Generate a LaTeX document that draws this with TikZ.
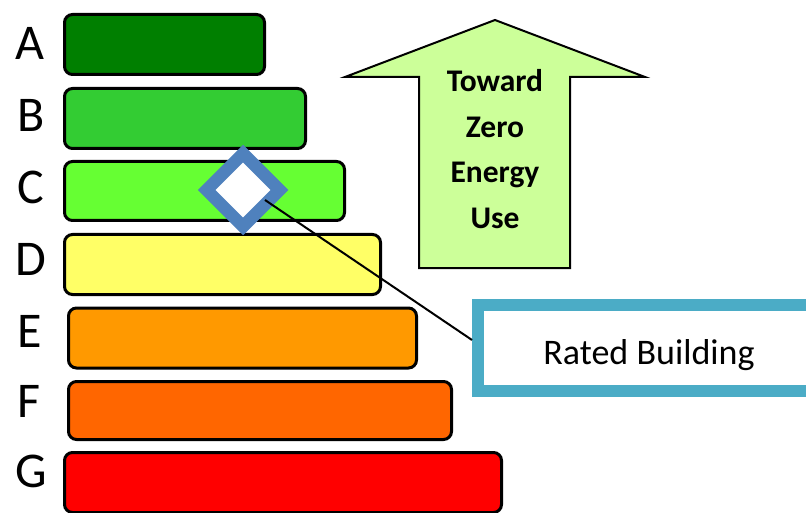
\documentclass[tikz,border=0pt]{standalone}
\usepackage{fontspec}
\setmainfont{Carlito}
\usetikzlibrary{shapes.geometric}
\definecolor{cA}{HTML}{007F00}
\definecolor{cB}{HTML}{33CC33}
\definecolor{cC}{HTML}{66FF33}
\definecolor{cD}{HTML}{FFFF66}
\definecolor{cE}{HTML}{FF9900}
\definecolor{cF}{HTML}{FF6600}
\definecolor{cG}{HTML}{FF0000}
\definecolor{arrowfill}{HTML}{CCFF99}
\definecolor{teal}{HTML}{4BACC6}
\definecolor{dblue}{HTML}{4F81BD}
\tikzset{
  bar/.style={draw=black, line width=3pt, rounded corners=8pt, inner sep=0pt, minimum height=60pt},
  letter/.style={inner sep=0pt, font=\fontsize{50}{50}\selectfont},
  marker/.style={diamond, draw=dblue, fill=white, line width=12.5pt, inner sep=0pt, minimum width=78pt, minimum height=78pt},
  labelbox/.style={draw=teal, fill=white, line width=12pt, inner sep=0pt, minimum width=342pt, minimum height=86pt, font=\fontsize{36}{36}\selectfont},
  bigarrow/.style={draw=black, line width=2pt, fill=arrowfill, line join=miter},
  arrowtext/.style={align=center, font=\bfseries\fontsize{31.5}{45.7}\selectfont}
}
\begin{document}
\begin{tikzpicture}[x=1pt,y=-1pt]
\useasboundingbox (0,0) rectangle (806,513);
\clip (0,0) rectangle (806,513);
\fill[white] (0,0) rectangle (806,513);
% bars
\node[bar, fill=cA, minimum width=200pt] (barA) at (164.5,44.5) {};
\node[bar, fill=cB, minimum width=241pt] (barB) at (185,118.5) {};
\node[bar, fill=cC, minimum width=280pt, minimum height=59pt] (barC) at (204.5,191) {};
\node[bar, fill=cD, minimum width=316pt] (barD) at (222.5,264.5) {};
\node[bar, fill=cE, minimum width=348pt] (barE) at (242.5,338) {};
\node[bar, fill=cF, minimum width=383pt, minimum height=58pt] (barF) at (260,410.5) {};
\node[bar, fill=cG, minimum width=437pt] (barG) at (283,482.5) {};
% letters
\node[letter] (lA) at (29.5,43.5) {A};
\node[letter] (lB) at (31,115.5) {B};
\node[letter] (lC) at (31,187.5) {C};
\node[letter] (lD) at (31,259.5) {D};
\node[letter] (lE) at (30,331) {E};
\node[letter] (lF) at (29,401) {F};
\node[letter] (lG) at (31,471) {G};
% rated building box
\node[labelbox] (rated) at (649,348) {\raisebox{-16pt}[0pt][0pt]{Rated Building}};
% marker
\node[marker] (mark) at (243,190) {};
\coordinate (markend) at (265,200);
\draw[line width=2pt, black] (markend) -- ([yshift=8pt]rated.west);
% arrow
\coordinate (tip) at (495,20);
\coordinate (wl) at (345,77);
\coordinate (wr) at (645,77);
\coordinate (sl) at (419,77);
\coordinate (sr) at (570,77);
\coordinate (bl) at (419,268);
\coordinate (br) at (570,268);
\draw[bigarrow] (tip) -- (wr) -- (sr) -- (br) -- (bl) -- (sl) -- (wl) -- cycle;
\node[arrowtext] (atext) at (495,149) {Toward\\Zero\\Energy\\Use};
\end{tikzpicture}
\end{document}
